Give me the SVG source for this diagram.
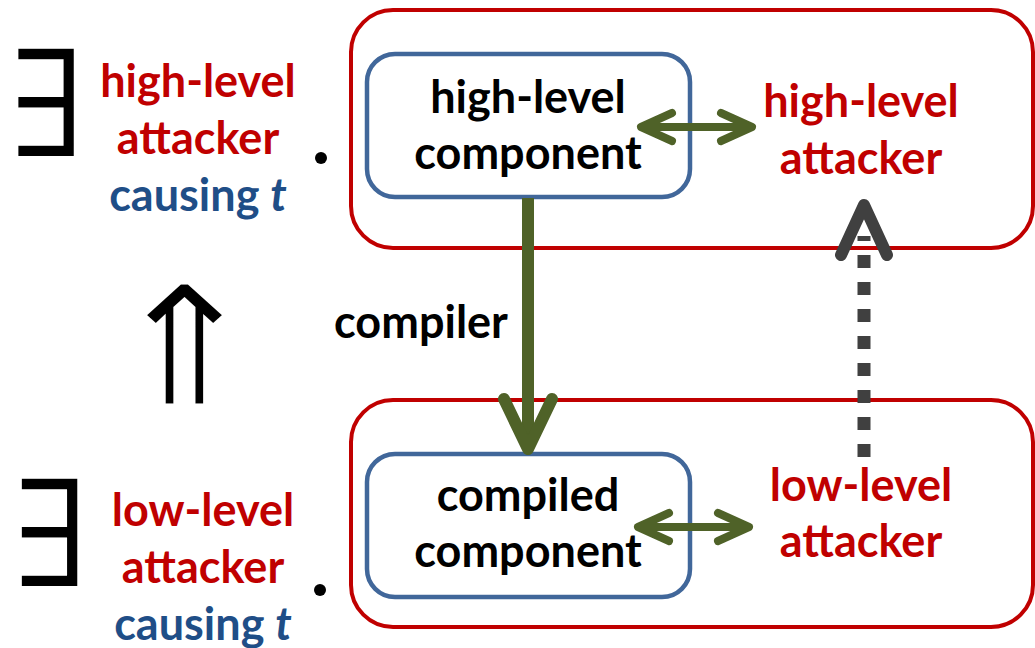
<svg xmlns="http://www.w3.org/2000/svg" width="1035" height="648" viewBox="0 0 1035 648">
<style>
.t{font-family:Lato,"Open Sans","Liberation Sans",sans-serif;font-weight:bold;font-size:45px;text-anchor:middle}
.red{fill:#C00000}
.blk{fill:#000}
.blu{fill:#1F4E87}
.frame{fill:none;stroke:#C00000;stroke-width:4}
.comp{fill:#fff;stroke:#41679A;stroke-width:4.5}
.sym{font-family:"DejaVu Sans",sans-serif;fill:#000;stroke:#fff;text-anchor:middle}
.g{fill:none;stroke:#4F6228;stroke-linecap:round;stroke-linejoin:round}
.gr{fill:none;stroke:#404040;stroke-linejoin:round}
</style>
<rect width="1035" height="648" fill="#fff"/>
<g id="top-world">
<rect class="frame" x="351" y="10" width="682" height="238" rx="42"/>
</g>
<g id="bottom-world">
<rect class="frame" x="351" y="400" width="682" height="227" rx="42"/>
</g>
<g id="hl-component">
<rect class="comp" x="367" y="54" width="323" height="143" rx="28"/>
<text class="t blk" x="528" y="113">high-level</text>
<text class="t blk" x="528" y="169">component</text>
</g>
<g id="compiled-component">
<rect class="comp" x="367" y="454" width="323" height="143" rx="28"/>
<text class="t blk" x="528" y="511">compiled</text>
<text class="t blk" x="528" y="567">component</text>
</g>
<g id="hl-attacker">
<text class="t red" x="861" y="117">high-level</text>
<text class="t red" x="861" y="174">attacker</text>
</g>
<g id="ll-attacker">
<text class="t red" x="861" y="501">low-level</text>
<text class="t red" x="861" y="557">attacker</text>
</g>
<g id="left-top">
<text class="sym" transform="translate(44,157) scale(0.87,1.07)" font-size="140" stroke-width="2">∃</text>
<text class="t red" x="198" y="97">high-level</text>
<text class="t red" x="198" y="154">attacker</text>
<text class="t blu" x="198" y="211">causing <tspan font-style="italic">t</tspan></text>
<circle cx="321" cy="158" r="6" fill="#000"/>
</g>
<g id="implies">
<text class="sym" transform="translate(184.5,405) scale(1.23,1.11)" font-size="150" stroke-width="2.5">⇑</text>
</g>
<g id="left-bottom">
<text class="sym" transform="translate(47.5,587) scale(0.87,1.07)" font-size="140" stroke-width="2">∃</text>
<text class="t red" x="203" y="526">low-level</text>
<text class="t red" x="203" y="583">attacker</text>
<text class="t blu" x="203" y="640">causing <tspan font-style="italic">t</tspan></text>
<circle cx="320" cy="590" r="6" fill="#000"/>
</g>
<g id="connectors">
<path class="g" stroke-width="8" d="M645,127 H748 M672,113 L641,127 L672,141 M721,113 L752,127 L721,141"/>
<path class="g" stroke-width="8" d="M642,527 H745 M669,513 L638,527 L669,541 M718,513 L749,527 L718,541"/>
<line x1="528" y1="198" x2="528" y2="445" stroke="#4F6228" stroke-width="12"/>
<path class="g" stroke-width="12" d="M504,399 L528,449 L552,399"/>
<line x1="864" y1="457" x2="864" y2="236" stroke="#404040" stroke-width="13" stroke-dasharray="13,14"/>
<path class="gr" stroke-width="12" stroke-linecap="round" d="M841,255 L864,205 L887,255"/>
<text class="t blk" x="421" y="338">compiler</text>
</g>
</svg>
